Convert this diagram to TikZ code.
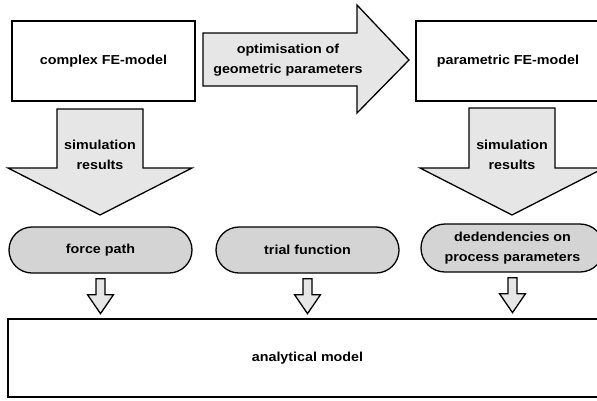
\documentclass[tikz,border=0pt]{standalone}
\usepackage{fontspec}
\setmainfont{Liberation Sans}[FakeStretch=1.1]
\usetikzlibrary{shapes.misc}
\definecolor{arrowgray}{HTML}{E6E6E6}
\definecolor{pillgray}{HTML}{D4D4D4}
\begin{document}
\begin{tikzpicture}[x=1pt, y=-1pt, line width=1.3pt, line join=miter,
  lbl/.style={font=\fontsize{13}{20}\selectfont\bfseries, align=center, inner sep=0pt},
  box/.style={draw, fill=white, lbl},
  pill/.style={draw, fill=pillgray, rounded rectangle, minimum width=183pt, minimum height=46pt, lbl},
  blockarrow/.style={draw, fill=arrowgray}]
\useasboundingbox (0,0) rectangle (597,400);
\clip (0,0) rectangle (597,400);

% model boxes
\node[box, minimum width=183pt, minimum height=80pt] (cfe) at (103.5,61) {complex FE-model};
\node[box, minimum width=184pt, minimum height=80pt] (pfe) at (508,61) {parametric FE-model};

% optimisation arrow between the two models
\draw[blockarrow] (203,33) -- (357,33) -- (357,5) -- (409,60) -- (357,113) -- (357,86) -- (203,86) -- cycle;
\node[lbl] (opt) at (288,60) {optimisation of\\geometric parameters};

% simulation result arrows
\draw[blockarrow] (57,109) -- (143,109) -- (143,168) -- (192,168) -- (100,215) -- (8,168) -- (57,168) -- cycle;
\node[lbl] (simA) at (100,155) {simulation\\results};
\draw[blockarrow] (469,108) -- (555,108) -- (555,168) -- (604,168) -- (512,215) -- (420,168) -- (469,168) -- cycle;
\node[lbl] (simB) at (512,155) {simulation\\results};

% intermediate results
\node[pill] (fp) at (100.5,250) {force path};
\node[pill] (tf) at (307.5,250) {trial function};
\node[pill, minimum height=48pt] (dp) at (512.5,248) {dedendencies on\\process parameters};

% analytical model
\node[box, minimum width=599pt, minimum height=78pt] (am) at (307.5,358) {analytical model};

% small arrows into the analytical model
\foreach \n in {fp,tf,dp}{
  \draw[blockarrow, shift={(\n.south)}]
    (-4.5,5) -- (4.5,5) -- (4.5,21) -- (13,21) -- (0,40) -- (-13,21) -- (-4.5,21) -- cycle;
}
\end{tikzpicture}
\end{document}
